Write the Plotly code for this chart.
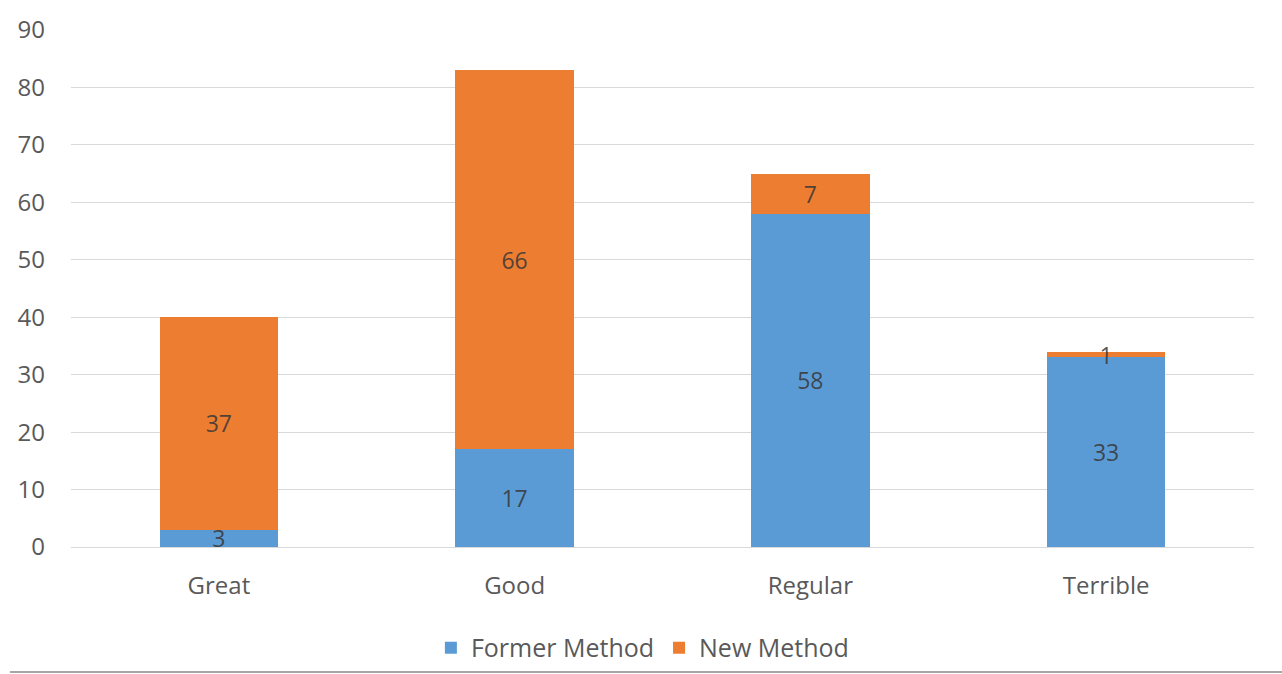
import plotly.graph_objects as go

categories = ["Great", "Good", "Regular", "Terrible"]
former_method = [3, 17, 58, 33]
new_method = [37, 66, 7, 1]
y_ticks = [0, 10, 20, 30, 40, 50, 60, 70, 80, 90]

FONT = "Open Sans"
GRAY = "#595959"
LABEL = "rgba(55,55,55,0.85)"

fig = go.Figure()
fig.add_trace(go.Bar(
    x=categories, y=former_method, name="Former Method",
    marker=dict(color="#5B9BD5", line=dict(width=0)),
    text=[str(v) for v in former_method], textposition="inside",
    insidetextanchor="middle", constraintext="none", textangle=0,
    textfont=dict(family=FONT, size=23, color=LABEL),
))
fig.add_trace(go.Bar(
    x=categories, y=new_method, name="New Method",
    marker=dict(color="#ED7D31", line=dict(width=0)),
    text=[str(v) for v in new_method], textposition="inside",
    insidetextanchor="middle", constraintext="none", textangle=0,
    textfont=dict(family=FONT, size=23, color=LABEL),
))

fig.update_layout(
    barmode="stack",
    bargap=0.6,
    width=1282, height=674,
    margin=dict(l=71, r=28, t=30, b=127, autoexpand=False),
    paper_bgcolor="white", plot_bgcolor="white",
    font=dict(family=FONT, size=24, color=GRAY),
    showlegend=True,
    legend=dict(orientation="h", x=0.483, xanchor="center",
                yref="container", y=0.0386, yanchor="middle",
                font=dict(family=FONT, size=25, color=GRAY), traceorder="normal",
                itemwidth=30, bgcolor="rgba(0,0,0,0)"),
    xaxis=dict(showgrid=False, showline=False, ticks="", ticklabelstandoff=22,
               automargin=False,
               tickfont=dict(family=FONT, size=24, color=GRAY)),
    yaxis=dict(range=[0, 90], tickvals=y_ticks, ticktext=[str(v) for v in y_ticks],
               showgrid=True, gridcolor="#D9D9D9", gridwidth=1,
               zeroline=True, zerolinecolor="#D9D9D9", zerolinewidth=1,
               showline=False, ticks="", ticklabelstandoff=25, automargin=False,
               tickfont=dict(family=FONT, size=24, color=GRAY)),
    shapes=[dict(type="line", xref="paper", yref="paper",
                 x0=-0.0516, x1=1.03, y0=-0.2418, y1=-0.2418,
                 line=dict(color="#A6A6A6", width=2))],
)

fig.write_html("out.html")
